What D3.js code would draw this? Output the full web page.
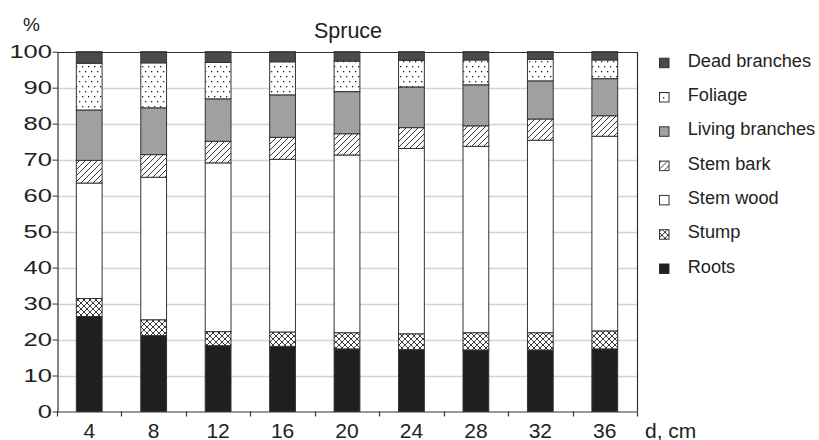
<!DOCTYPE html>
<html>
<head>
<meta charset="utf-8">
<script src="https://cdn.jsdelivr.net/npm/d3@7/dist/d3.min.js"></script>
<style>
  html, body { margin: 0; padding: 0; background: #fff; }
  svg { display: block; font-family: "Liberation Sans", Arial, sans-serif; }
</style>
</head>
<body>
<svg id="chart" width="819" height="440"></svg>
<script>
// Stem diameter classes (cm)
const diameters = ["4", "8", "12", "16", "20", "24", "28", "32", "36"];

// Share of total biomass (%) per fraction, bottom of stack first
const roots        = [26.4, 21.1, 18.3, 18.1, 17.4, 17.2, 17.1, 17.1, 17.4];
const stump        = [5.0, 4.4, 3.9, 4.0, 4.5, 4.4, 4.8, 4.8, 5.0];
const stemWood     = [32.1, 39.6, 46.9, 48.0, 49.4, 51.5, 51.8, 53.5, 54.1];
const stemBark     = [6.3, 6.3, 6.0, 6.1, 5.9, 5.8, 5.7, 5.9, 5.7];
const livingBranch = [14.0, 13.0, 11.8, 11.8, 11.7, 11.3, 11.4, 10.6, 10.3];
const foliage      = [13.0, 12.5, 10.1, 9.2, 8.5, 7.4, 6.9, 6.0, 5.2];
const deadBranch   = [3.2, 3.1, 3.0, 2.8, 2.6, 2.4, 2.3, 2.1, 2.3];

const yTicks = [0, 10, 20, 30, 40, 50, 60, 70, 80, 90, 100];

const seriesDefs = [
  { key: "roots",   label: "Roots",           values: roots,        fill: "#1f1f1d" },
  { key: "stump",   label: "Stump",           values: stump,        fill: "url(#pat-cross)" },
  { key: "wood",    label: "Stem wood",       values: stemWood,     fill: "#ffffff" },
  { key: "bark",    label: "Stem bark",       values: stemBark,     fill: "url(#pat-hatch)" },
  { key: "living",  label: "Living branches", values: livingBranch, fill: "#a0a0a0" },
  { key: "foliage", label: "Foliage",         values: foliage,      fill: "url(#pat-dots)" },
  { key: "dead",    label: "Dead branches",   values: deadBranch,   fill: "#4b4b4b" }
];

const rows = diameters.map((d, i) => {
  const r = { d };
  seriesDefs.forEach(s => { r[s.key] = s.values[i]; });
  return r;
});

const svg = d3.select("#chart");
const margin = { left: 57, right: 182, top: 52, bottom: 29 };
const W = 819, H = 440;
const x0 = margin.left, x1 = W - margin.right;
const y0 = H - margin.bottom, y1 = margin.top;
const ink = "#222";

const x = d3.scaleBand().domain(diameters).range([x0, x1]).paddingInner(0.6).paddingOuter(0.3);
const y = d3.scaleLinear().domain([0, 100]).range([y0 + 0.5, y1 - 0.3]);

// Fill patterns
const defs = svg.append("defs");
const dots = defs.append("pattern").attr("id", "pat-dots")
  .attr("patternUnits", "userSpaceOnUse").attr("width", 6).attr("height", 10);
dots.append("rect").attr("width", 6).attr("height", 10).attr("fill", "#fff");
dots.append("rect").attr("x", 1).attr("y", 1).attr("width", 1.3).attr("height", 1.3).attr("fill", ink);
dots.append("rect").attr("x", 4).attr("y", 6).attr("width", 1.3).attr("height", 1.3).attr("fill", ink);

const hatch = defs.append("pattern").attr("id", "pat-hatch")
  .attr("patternUnits", "userSpaceOnUse").attr("width", 6).attr("height", 6);
hatch.append("rect").attr("width", 6).attr("height", 6).attr("fill", "#fff");
hatch.append("path").attr("d", "M-1,7 L7,-1 M-4,4 L4,-4 M2,10 L10,2")
  .attr("stroke", ink).attr("stroke-width", 0.9);

const cross = defs.append("pattern").attr("id", "pat-cross")
  .attr("patternUnits", "userSpaceOnUse").attr("width", 6).attr("height", 6);
cross.append("rect").attr("width", 6).attr("height", 6).attr("fill", "#fff");
cross.append("path").attr("d", "M-1,7 L7,-1 M-4,4 L4,-4 M2,10 L10,2 M-1,-1 L7,7 M-4,2 L4,10 M2,-4 L10,4")
  .attr("stroke", ink).attr("stroke-width", 0.9);

// Gridlines
svg.append("g").selectAll("line").data(yTicks.filter(t => t > 0 && t < 100)).join("line")
  .attr("x1", x0).attr("x2", x1)
  .attr("y1", d => Math.round(y(d)) + 0.5).attr("y2", d => Math.round(y(d)) + 0.5)
  .attr("stroke", "#d2d2d2").attr("stroke-width", 1.6);

// Stacked bars
const stack = d3.stack().keys(seriesDefs.map(s => s.key));
const layers = stack(rows);
svg.append("g").selectAll("g").data(layers).join("g")
  .attr("fill", (d, i) => seriesDefs[i].fill)
  .selectAll("rect").data(d => d).join("rect")
  .attr("x", d => x(d.data.d))
  .attr("width", x.bandwidth())
  .attr("y", d => y(d[1]))
  .attr("height", d => y(d[0]) - y(d[1]))
  .attr("stroke", "#333").attr("stroke-width", 1);

// Plot frame
svg.append("line").attr("x1", x0).attr("x2", x1).attr("y1", y1 + 0.5).attr("y2", y1 + 0.5)
  .attr("stroke", "#333").attr("stroke-width", 1.2);
svg.append("line").attr("x1", x1 + 0.5).attr("x2", x1 + 0.5).attr("y1", y1).attr("y2", y0)
  .attr("stroke", "#333").attr("stroke-width", 1.2);

// Y axis (labels drawn wide, anchored at their right edge)
const yAxis = svg.append("g").attr("transform", `translate(${x0 + 0.5},0)`)
  .call(d3.axisLeft(y).tickValues(yTicks).tickSize(5).tickSizeOuter(0));
yAxis.select(".domain").attr("stroke", "#333").attr("stroke-width", 1.2);
yAxis.selectAll(".tick line").attr("stroke", "#333");
yAxis.selectAll(".tick text")
  .attr("x", 0).attr("dy", null).attr("y", 0)
  .attr("dominant-baseline", "central")
  .attr("transform", "translate(-5.5,0) scale(1.38,1)")
  .attr("font-size", 18.5).attr("fill", ink)
  .attr("font-family", "'Liberation Sans', Arial, sans-serif");

// X axis: ticks sit on the category boundaries
const xAxis = svg.append("g").attr("transform", `translate(0,${y0 + 0.5})`)
  .call(d3.axisBottom(x).tickSize(0).tickSizeOuter(0));
xAxis.select(".domain").attr("stroke", "#333").attr("stroke-width", 1.2);
xAxis.selectAll(".tick text").attr("y", 26).attr("dy", null).attr("font-size", 21).attr("fill", ink)
  .attr("font-family", "'Liberation Sans', Arial, sans-serif");
const bounds = d3.range(diameters.length + 1).map(i => x0 + i * (x1 - x0) / diameters.length);
xAxis.append("g").selectAll("line").data(bounds).join("line")
  .attr("x1", d => Math.round(d) + 0.5).attr("x2", d => Math.round(d) + 0.5)
  .attr("y1", 0).attr("y2", 5).attr("stroke", "#333").attr("stroke-width", 1.2);

// Axis captions and title
svg.append("text").attr("x", 31.5).attr("y", 30.5).attr("text-anchor", "middle")
  .attr("font-size", 19).attr("fill", ink).text("%");
svg.append("text").attr("x", 348).attr("y", 38.3).attr("text-anchor", "middle")
  .attr("font-size", 21.5).attr("fill", ink).text("Spruce");
svg.append("text").attr("x", 645).attr("y", 437.5)
  .attr("font-size", 21).attr("fill", ink).text("d, cm");

// Legend, top entry first
const legend = svg.append("g").attr("transform", "translate(659,0)");
const legendItems = seriesDefs.slice().reverse();
const li = legend.selectAll("g").data(legendItems).join("g")
  .attr("transform", (d, i) => `translate(0,${66.7 + i * 34.3})`);
li.append("rect").attr("x", 0.5).attr("y", -8.5).attr("width", 9.5).attr("height", 9.5)
  .attr("fill", d => d.fill).attr("stroke", "#333").attr("stroke-width", 1);
li.append("text").attr("transform", "translate(28.7,0) scale(1.04,1)")
  .attr("font-size", 17.5).attr("fill", ink).text(d => d.label);
</script>
</body>
</html>
